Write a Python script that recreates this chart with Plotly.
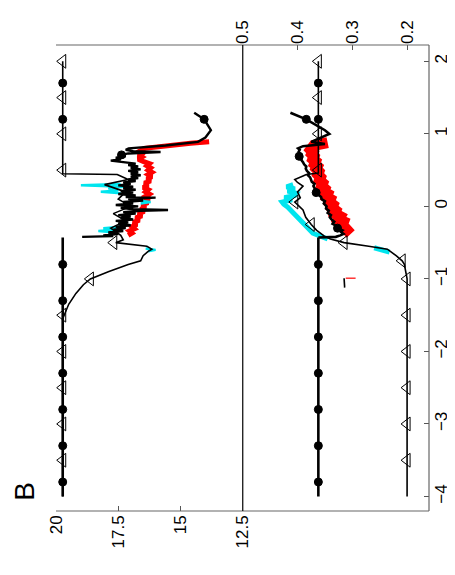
import plotly.graph_objects as go

# ---------------- data (position along the -4..2 axis, value) ----------------
# left panel (scale 20 .. 12.5)
L_flat_v = [-4.0, -0.43]
L_flat_val = [19.73, 19.73]

L_blk_v = [-0.42, -0.41, -0.40, -0.38, -0.36, -0.34, -0.32, -0.30, -0.28, -0.26,
           -0.24, -0.22, -0.20, -0.18, -0.16, -0.14, -0.12, -0.10, -0.08, -0.06,
           -0.05, -0.04, -0.02, 0.00, 0.02, 0.04, 0.06, 0.08, 0.10, 0.12,
           0.13, 0.15, 0.17, 0.19, 0.21, 0.23, 0.25, 0.27, 0.29, 0.31,
           0.33, 0.35, 0.37, 0.39, 0.41, 0.43, 0.45, 0.47, 0.49, 0.51,
           0.53, 0.55, 0.57, 0.59, 0.61, 0.63, 0.65, 0.67, 0.69, 0.71,
           0.73, 0.75, 0.76, 0.78, 0.80, 0.84, 0.89, 0.95, 1.05, 1.2, 1.29]
L_blk_val = [18.95, 17.7, 18.1, 17.5, 17.9, 17.3, 17.7, 17.2, 17.6, 17.0,
             17.5, 17.1, 17.6, 16.9, 17.4, 17.0, 17.5, 16.8, 17.3, 16.6,
             15.5, 16.9, 17.4, 16.7, 17.6, 16.9, 17.3, 16.5, 17.1, 16.0,
             17.2, 16.8, 17.5, 16.9, 17.4, 16.8, 17.3, 16.9, 17.5, 17.0,
             17.3, 16.8, 17.1, 16.7, 17.0, 16.6, 17.0, 16.7, 17.1, 16.6,
             17.0, 16.7, 17.1, 16.8, 17.3, 17.8, 17.4, 17.6, 17.2, 17.37,
             17.1, 15.8, 16.9, 17.2, 17.08, 15.6, 14.3, 14.0, 13.78, 14.05, 14.45]

L_red_v = [-0.40, -0.37, -0.34, -0.31, -0.28, -0.25, -0.22, -0.19, -0.16, -0.13,
           -0.10, -0.07, -0.04, -0.01, 0.02, 0.05, 0.08, 0.11, 0.14, 0.17,
           0.20, 0.23, 0.26, 0.29, 0.32, 0.35, 0.38, 0.41, 0.44, 0.47,
           0.50, 0.53, 0.56, 0.59, 0.62, 0.65, 0.68, 0.71, 0.74, 0.77,
           0.80, 0.84, 0.87, 0.89]
L_red_val = [17.1, 16.95, 17.05, 16.85, 16.95, 16.75, 16.9, 16.65, 16.8, 16.55,
             16.7, 16.45, 16.6, 16.4, 16.55, 16.3, 16.45, 16.25, 16.4, 16.25,
             16.4, 16.3, 16.5, 16.3, 16.45, 16.2, 16.35, 16.15, 16.3, 16.15,
             16.3, 16.2, 16.35, 16.25, 16.5, 16.7, 16.55, 16.7, 16.45, 16.6,
             16.45, 15.6, 14.6, 13.85]

L_cyan_v = [-0.62, -0.60, -0.58, None, -0.36, -0.34, -0.32, -0.30, -0.28, None,
            0.04, 0.06, 0.08, None, 0.18, 0.20, 0.22, 0.25, 0.27, 0.29, 0.31]
L_cyan_val = [16.3, 16.0, 16.4, None, 17.6, 18.3, 17.5, 18.1, 17.4, None,
              16.6, 16.2, 16.7, None, 17.4, 18.2, 17.5, 17.9, 17.3, 19.0, 17.4]

L_tri_v = [-4.0, -1.55, -1.35, -1.2, -1.08, -1.0, -0.9, -0.8, -0.75, -0.68,
           -0.62, -0.59, -0.55, -0.5, -0.46, -0.4, -0.3, -0.2, -0.1, 0.0,
           0.1, 0.2, 0.3, 0.37, 0.44, 0.45, 2.0]
L_tri_val = [19.73, 19.73, 19.49, 19.2, 18.9, 18.62, 17.9, 17.1, 16.6, 16.5,
             16.3, 16.15, 16.35, 17.6, 17.3, 17.4, 17.8, 17.2, 17.7, 17.0,
             17.5, 17.2, 18.05, 17.1, 17.54, 19.73, 19.73]

L_trimk_v = [-3.5, -3.0, -2.5, -2.0, -1.5, -1.0, -0.5, 0.5, 1.0, 1.5, 2.0]
L_trimk_val = [19.73, 19.73, 19.73, 19.73, 19.73, 18.62, 17.68, 19.73, 19.73, 19.73, 19.73]
L_dotmk_v = [-3.8, -3.3, -2.8, -2.3, -1.8, -1.3, -0.8, 0.71, 1.2, 1.2, 1.7]
L_dotmk_val = [19.73, 19.73, 19.73, 19.73, 19.73, 19.73, 19.73, 17.37, 14.05, 19.73, 19.73]

# right panel (scale 0.5 .. 0.2)
R_flat_v = [-4.0, -0.43]
R_flat_val = [0.362, 0.362]

R_blk_v = [-0.43, -0.42, -0.40, -0.38, -0.35, -0.33, -0.30, -0.27, -0.24, -0.21,
           -0.18, -0.15, -0.12, -0.09, -0.06, -0.03, 0.0, 0.04, 0.07, 0.10,
           0.13, 0.16, 0.19, 0.22, 0.25, 0.28, 0.31, 0.34, 0.37, 0.40,
           0.43, 0.46, 0.49, 0.52, 0.55, 0.58, 0.61, 0.64, 0.67, 0.69,
           0.72, 0.75, 0.78, 0.80, 0.83, 0.86, 0.89, 0.94, 1.0, 1.05, 1.2, 1.29]
R_blk_val = [0.362, 0.33, 0.322, 0.316, 0.321, 0.318, 0.327, 0.329, 0.336, 0.333,
             0.338, 0.341, 0.339, 0.345, 0.343, 0.348, 0.347, 0.352, 0.350, 0.356,
             0.357, 0.362, 0.366, 0.364, 0.369, 0.371, 0.369, 0.374, 0.376, 0.377,
             0.381, 0.379, 0.383, 0.385, 0.384, 0.388, 0.390, 0.393, 0.392, 0.397,
             0.395, 0.398, 0.396, 0.399, 0.39, 0.35, 0.375, 0.36, 0.342, 0.35, 0.384, 0.413]

R_red_v = [-0.38, -0.35, -0.32, -0.28, -0.25, -0.21, -0.18, -0.14, -0.10, -0.06,
           -0.02, 0.02, 0.06, 0.10, 0.13, 0.17, 0.20, 0.24, 0.28, 0.32,
           0.36, 0.40, 0.44, 0.48, 0.52, 0.55, 0.58, 0.62, 0.65, 0.69,
           0.72, 0.75, 0.78, 0.81, 0.84, 0.88]
R_red_val = [0.303, 0.309, 0.306, 0.315, 0.318, 0.316, 0.325, 0.322, 0.332, 0.330,
             0.337, 0.335, 0.342, 0.340, 0.347, 0.345, 0.352, 0.350, 0.356, 0.354,
             0.360, 0.358, 0.363, 0.361, 0.366, 0.364, 0.369, 0.367, 0.372, 0.370,
             0.374, 0.372, 0.376, 0.374, 0.370, 0.345]

R_cyan_v = [-0.63, -0.6, -0.57, None, -0.45, -0.41, -0.37, -0.33, -0.29, -0.25,
            -0.21, -0.17, -0.13, -0.09, -0.05, -0.01, 0.03, 0.06, 0.09, 0.12,
            0.15, 0.18, 0.21, 0.24, 0.27, 0.30]
R_cyan_val = [0.232, 0.245, 0.26, None, 0.345, 0.362, 0.372, 0.377, 0.382, 0.386,
              0.392, 0.396, 0.403, 0.408, 0.413, 0.418, 0.425, 0.428, 0.41, 0.424,
              0.405, 0.402, 0.418, 0.405, 0.42, 0.408]

R_tri_v = [-4.0, -1.0, -0.8, -0.75, -0.68, -0.59, -0.55, -0.5, -0.45, -0.41,
           -0.33, -0.25, -0.15, -0.05, 0.06, 0.12, 0.2, 0.28, 0.33, 0.37,
           0.42, 0.44, 0.46, 2.0]
R_tri_val = [0.2, 0.2, 0.205, 0.209, 0.22, 0.236, 0.27, 0.315, 0.34, 0.351,
             0.365, 0.375, 0.385, 0.39, 0.405, 0.395, 0.4, 0.39, 0.4, 0.405,
             0.39, 0.384, 0.362, 0.362]

R_trimk_v = [-3.5, -3.0, -2.5, -2.0, -1.5, -1.0, -0.75, -0.5, -0.25, 0.06, 0.5, 1.0, 1.5, 2.0]
R_trimk_val = [0.2, 0.2, 0.2, 0.2, 0.2, 0.2, 0.209, 0.315, 0.375, 0.405, 0.362, 0.362, 0.362, 0.362]
R_dotmk_v = [-3.8, -3.3, -2.8, -2.3, -1.8, -1.3, -0.8, -0.30, 0.19, 0.69, 1.2, 1.2, 1.7]
R_dotmk_val = [0.362, 0.362, 0.362, 0.362, 0.362, 0.362, 0.362, 0.327, 0.366, 0.397, 0.384, 0.362, 0.362]

R_tick_blk_v = [-0.99, -1.12]
R_tick_blk_val = [0.315, 0.314]
R_tick_red_v = [-0.99, -0.99]
R_tick_red_val = [0.312, 0.294]

# axis ticks
pos_ticks = [-4, -3, -2, -1, 0, 1, 2]
pos_labels = ["\u22124", "\u22123", "\u22122", "\u22121", "0", "1", "2"]
left_ticks = [20, 17.5, 15, 12.5]
left_labels = ["20", "17.5", "15", "12.5"]
right_ticks = [0.5, 0.4, 0.3, 0.2]
right_labels = ["0.5", "0.4", "0.3", "0.2"]

CYAN = "#00e5ee"
RED = "#ff0000"

fig = go.Figure()


def line(xv, yv, axis, color, width):
    fig.add_trace(go.Scatter(x=xv, y=yv, xaxis=axis, yaxis="y", mode="lines",
                             line=dict(color=color, width=width), hoverinfo="skip",
                             showlegend=False, connectgaps=False))


def marks(xv, yv, axis, symbol, size, fill):
    fig.add_trace(go.Scatter(x=xv, y=yv, xaxis=axis, yaxis="y", mode="markers",
                             marker=dict(symbol=symbol, size=size, color=fill,
                                         line=dict(color="black", width=1)),
                             hoverinfo="skip", showlegend=False))


# left panel
line(L_red_val, L_red_v, "x", RED, 5)
line(L_cyan_val, L_cyan_v, "x", CYAN, 2.5)
line(L_tri_val, L_tri_v, "x", "black", 1.6)
line(L_flat_val, L_flat_v, "x", "black", 2.6)
line(L_blk_val, L_blk_v, "x", "black", 2.4)
marks(L_trimk_val, L_trimk_v, "x", "triangle-left-open", 12, "black")
marks(L_dotmk_val, L_dotmk_v, "x", "circle", 8, "black")

# right panel
line(R_cyan_val, R_cyan_v, "x2", CYAN, 5)
line(R_red_val, R_red_v, "x2", RED, 11)
line(R_tick_red_val, R_tick_red_v, "x2", RED, 1.2)
line(R_tick_blk_val, R_tick_blk_v, "x2", "black", 1.6)
line(R_tri_val, R_tri_v, "x2", "black", 1.6)
line(R_flat_val, R_flat_v, "x2", "black", 2.6)
line(R_blk_val, R_blk_v, "x2", "black", 2.6)
marks(R_trimk_val, R_trimk_v, "x2", "triangle-left-open", 12, "black")
marks(R_dotmk_val, R_dotmk_v, "x2", "circle", 8, "black")

split = (243 - 55.5) / 374.5
tickfont = dict(family="Liberation Sans, Arial, sans-serif", size=17, color="black")
common = dict(showgrid=False, zeroline=False, showline=False, ticks="inside",
              ticklen=5, tickcolor="#555", tickwidth=1, tickangle=-90, tickfont=tickfont)

fig.update_layout(
    width=455, height=575,
    margin=dict(l=47.5, r=33, t=26, b=71.5, pad=0),
    paper_bgcolor="white", plot_bgcolor="white",
    xaxis=dict(domain=[0, split], range=[20, 12.5], anchor="y", side="bottom",
               tickmode="array", tickvals=left_ticks, ticktext=left_labels, **common),
    xaxis2=dict(domain=[split, 1], range=[0.5, 0.16], anchor="y", side="top",
                tickmode="array", tickvals=right_ticks, ticktext=right_labels, **common),
    yaxis=dict(range=[-4.2, 2.225], anchor="x2", side="right",
               tickmode="array", tickvals=pos_ticks, ticktext=pos_labels, **common),
    shapes=[
        dict(type="line", xref="paper", yref="paper", x0=0, x1=1, y0=1, y1=1,
             line=dict(color="#666", width=1.2)),
        dict(type="line", xref="paper", yref="paper", x0=0, x1=1, y0=0, y1=0,
             line=dict(color="#666", width=1.2)),
        dict(type="line", xref="paper", yref="paper", x0=1, x1=1, y0=0, y1=1,
             line=dict(color="#666", width=1.2)),
        dict(type="line", xref="paper", yref="paper", x0=split, x1=split, y0=0, y1=1,
             line=dict(color="black", width=1.2)),
    ],
    annotations=[
        dict(text="B", xref="paper", yref="paper", x=-0.084, y=0.043, showarrow=False,
             textangle=-90, font=dict(family="Liberation Sans, Arial, sans-serif",
                                      size=28, color="black"),
             xanchor="center", yanchor="middle"),
    ],
)

fig.write_html("out.html")
